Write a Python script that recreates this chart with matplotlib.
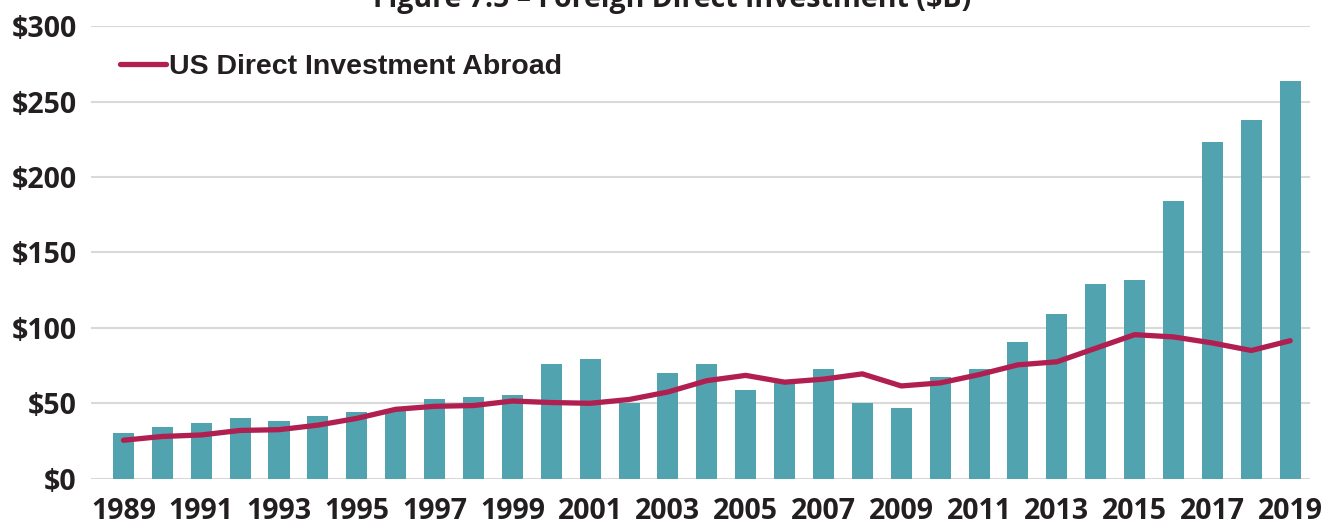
import numpy as np
import matplotlib.pyplot as plt

years = list(range(1989, 2020))
# foreign direct investment into the US ($B), bars
fdi_in = [30, 34.5, 37, 40.5, 38, 41.5, 44, 46, 53, 54.5, 55.5, 76, 79.5, 50, 70, 76,
          59, 64, 72.5, 50.5, 47, 67.5, 72.5, 90.5, 109, 129, 132, 184, 223.5, 238, 263.5]
# US direct investment abroad ($B), line
us_abroad = [25.5, 28, 29, 32, 32.5, 35.5, 40, 46, 48, 48.5, 51.5, 50.5, 50, 52.5, 57.5, 65,
             68.5, 64, 66, 69.5, 61.5, 63.5, 69, 75.5, 77.5, 86.5, 95.5, 94, 90, 85, 91.5]
tick_years = years[::2]
y_ticks = [0, 50, 100, 150, 200, 250, 300]
y_labels = ['$0', '$50', '$100', '$150', '$200', '$250', '$300']

bar_color = '#52a3b0'
line_color = '#b11f50'
text_color = '#231f20'
tick_font = 'Open Sans'

fig = plt.figure(figsize=(13.25, 5.25), dpi=100)
ax = fig.add_axes([0.0685, 0.0882, 0.9202, 0.8618])

x = np.arange(len(years))
ax.bar(x, fdi_in, width=0.54, color=bar_color, zorder=2)
ax.plot(x, us_abroad, color=line_color, linewidth=3.8, solid_capstyle='round',
        solid_joinstyle='round', zorder=3, label='US Direct Investment Abroad')

ax.set_xlim(-0.84, 30.51)
ax.set_ylim(0, 300)
ax.set_yticks(y_ticks)
ax.set_yticklabels(y_labels)
ax.set_xticks([years.index(y) for y in tick_years])
ax.set_xticklabels([str(y) for y in tick_years])
for lab in ax.get_xticklabels() + ax.get_yticklabels():
    lab.set_fontfamily(tick_font)
    lab.set_fontweight('bold')
    lab.set_fontsize(20.5)
    lab.set_color(text_color)
ax.tick_params(axis='both', length=0)
ax.tick_params(axis='y', pad=10)
ax.tick_params(axis='x', pad=13)

ax.grid(axis='y', color='#d9d9d9', linewidth=1.5, zorder=0)
ax.set_axisbelow(True)
for s in ax.spines.values():
    s.set_visible(False)

leg = ax.legend(loc='center left', bbox_to_anchor=(120 / 1325, 1 - 67 / 525),
                bbox_transform=fig.transFigure, frameon=False, borderpad=0,
                borderaxespad=0, handlelength=1.6, handletextpad=0.12,
                prop={'family': 'Liberation Sans', 'weight': 'bold', 'size': 20.5})
for t in leg.get_texts():
    t.set_color(text_color)

fig.text(0.507, 1 - 7 / 525, 'Figure 7.5 \u2013 Foreign Direct Investment ($B)',
         ha='center', va='baseline', fontfamily=tick_font, fontweight='bold',
         fontsize=20.5, color=text_color)

fig.savefig('out.png', dpi=100)
